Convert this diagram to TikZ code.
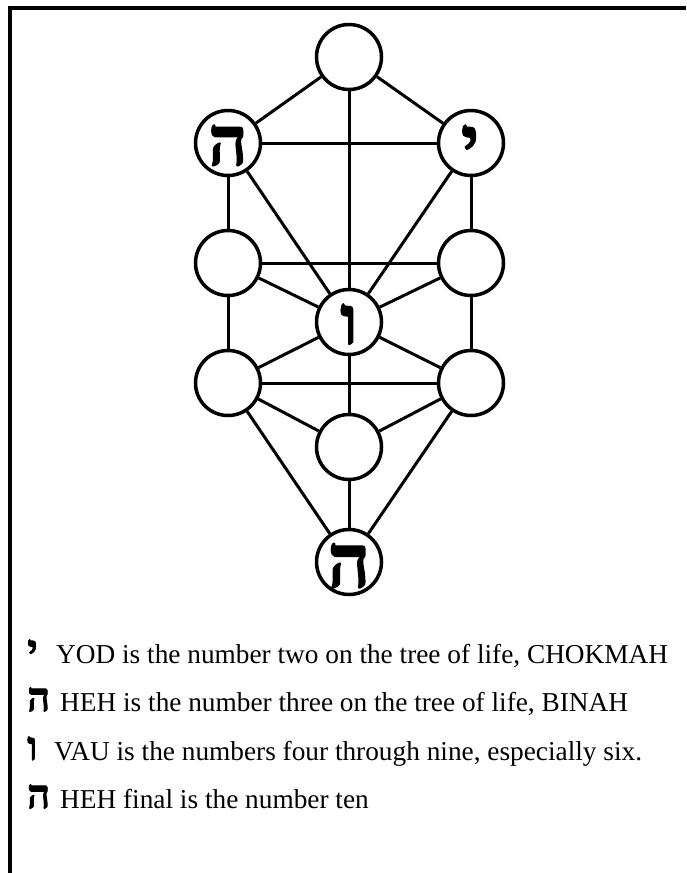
\documentclass[tikz,border=0pt]{standalone}
\usepackage{fontspec}
\setmainfont{Liberation Serif}
\newfontfamily\hebfont[Script=Hebrew, FakeBold=2]{Liberation Serif Bold}
\begin{document}
\begin{tikzpicture}[x=1pt,y=-1pt,
  sephira/.style={circle, draw, line width=3.5pt, fill=white, minimum size=65pt, inner sep=0pt},
  link/.style={line width=3pt},
  letter/.style={font=\hebfont\fontsize{68}{68}\selectfont, anchor=base, inner sep=0pt},
  bigletter/.style={font=\hebfont\fontsize{74}{74}\selectfont, anchor=base, inner sep=0pt},
  legtext/.style={font=\fontsize{27.3}{30}\selectfont, anchor=base west, inner sep=0pt},
  legletter/.style={font=\hebfont\fontsize{40}{40}\selectfont, anchor=base west, inner sep=0pt},
  frame/.style={line width=4pt, line join=miter}]
\useasboundingbox (0,0) rectangle (686,873);
% frame
\coordinate (f1) at (10,873);
\coordinate (f2) at (10,8);
\coordinate (f3) at (686,8);
\draw[frame] (f1) -- (f2) -- (f3);
% sephiroth
\node[sephira] (K) at (349,57) {};
\node[sephira] (B) at (228,143) {};
\node[sephira] (C) at (471,143) {};
\node[sephira] (L1) at (228,263) {};
\node[sephira] (R1) at (471,263) {};
\node[sephira] (T) at (349,322) {};
\node[sephira] (L2) at (228,383) {};
\node[sephira] (R2) at (471,383) {};
\node[sephira] (Y) at (349,447) {};
\node[sephira] (M) at (349,562) {};
% paths
\draw[link] (K) -- (B);
\draw[link] (K) -- (C);
\draw[link] (K) -- (T);
\draw[link] (B) -- (C);
\draw[link] (B) -- (L1);
\draw[link] (C) -- (R1);
\draw[link] (B) -- (T);
\draw[link] (C) -- (T);
\draw[link] (L1) -- (R1);
\draw[link] (L1) -- (T);
\draw[link] (R1) -- (T);
\draw[link] (L1) -- (L2);
\draw[link] (R1) -- (R2);
\draw[link] (L2) -- (R2);
\draw[link] (L2) -- (T);
\draw[link] (R2) -- (T);
\draw[link] (L2) -- (Y);
\draw[link] (R2) -- (Y);
\draw[link] (L2) -- (M);
\draw[link] (R2) -- (M);
\draw[link] (T) -- (Y);
\draw[link] (Y) -- (M);
% letters in the tree
\node[letter] (hB) at (228,165) {ה};
\node[letter] (hC) at (470,165) {י};
\node[letter] (hT) at (349,344) {ו};
\node[bigletter] (hM) at (349,587) {ה};
% legend
\node[legletter] (l1) at (27,663) {י};
\node[legtext] (t1) at (56,663) {YOD is the number two on the tree of life, CHOKMAH};
\node[legletter] (l2) at (27,711) {ה};
\node[legtext] (t2) at (60,711) {HEH is the number three on the tree of life, BINAH};
\node[legletter] (l3) at (27,760) {ו};
\node[legtext] (t3) at (54,760) {VAU is the numbers four through nine, especially six.};
\node[legletter] (l4) at (27,808) {ה};
\node[legtext] (t4) at (60,808) {HEH final is the number ten};
\end{tikzpicture}
\end{document}
